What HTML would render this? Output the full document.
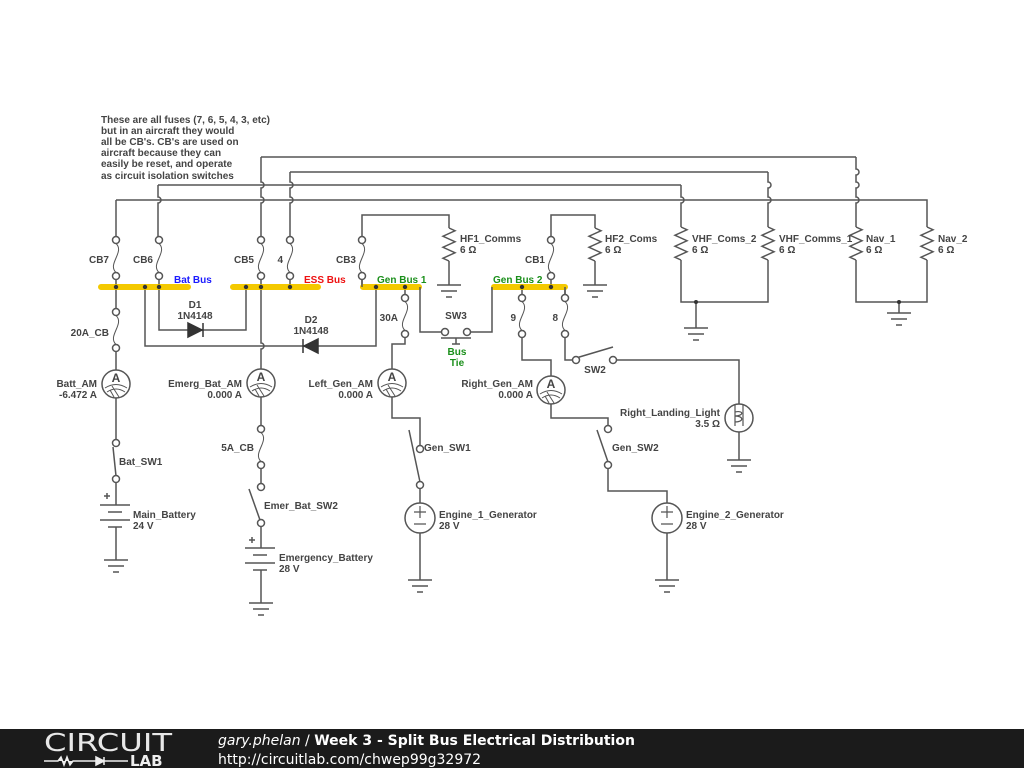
<!DOCTYPE html>
<html><head><meta charset="utf-8"><style>
html,body{margin:0;padding:0;background:#fff;width:1024px;height:768px;overflow:hidden}
svg{position:absolute;left:0;top:0}
text{font-family:"Liberation Sans",sans-serif;font-size:10px;font-weight:bold;fill:#444}
.w{stroke:#555;stroke-width:1.5;fill:none}
#foot{position:absolute;left:0;top:729px;width:1024px;height:39px;background:#1b1b1b}
</style></head><body>
<svg width="1024" height="768" viewBox="0 0 1024 768">
<defs>
<g id="fuse" class="w"><path d="M0,3.5 C9,12 -9,24 0,32.5" stroke-width="1"/><circle cx="0" cy="0" r="3.5" fill="#fff"/><circle cx="0" cy="36" r="3.5" fill="#fff"/></g>
<g id="am" class="w"><circle r="14" fill="#fff"/><path d="M-11,4 Q0,-3 11,4 M-9,8 Q0,2 9,8 M-4,2 L3,13 M-6,6 L-2,13"  stroke-width="1"/><text x="0" y="-2" text-anchor="middle" style="font-size:12px;fill:#444;stroke:none">A</text></g>
<path id="res" class="w" d="M0,0 L6,2.75 L-6,8.25 L6,13.75 L-6,19.25 L6,24.75 L-6,30.25 L0,33"/>
<g id="gnd" class="w"><path d="M-12,0 H12 M-8,6 H8 M-3,12 H3"/></g>
</defs>
<g class="w">
<!-- top wires -->
<path d="M261,157 H856 M290,172 H768 M158,185 H681 M116,200 H927 V227"/>
<path d="M261,157 V182 A3,3 0 0 1 261,188 V197 A3,3 0 0 1 261,203 V240"/>
<path d="M290,172 V182 A3,3 0 0 1 290,188 V197 A3,3 0 0 1 290,203 V240"/>
<path d="M158,185 V197 A3,3 0 0 1 158,203 V240"/>
<path d="M116,200 V240"/>
<path d="M681,185 V197 A3,3 0 0 1 681,203 V227"/>
<path d="M768,172 V182 A3,3 0 0 1 768,188 V197 A3,3 0 0 1 768,203 V227"/>
<path d="M856,157 V169 A3,3 0 0 1 856,175 V182 A3,3 0 0 1 856,188 V197 A3,3 0 0 1 856,203 V227"/>
<path d="M856,260 V302 H927 V260 M899,302 V313"/>
<path d="M681,260 V302 H768 V260 M696,302 V328"/>
<path d="M362,240 V215 H449 V228 M449,261 V285"/>
<path d="M551,240 V215 H595 V228 M595,261 V285"/>
<!-- bus drops -->
<path d="M116,276 V312 M116,348 V370 M116,398 V443 M116,479 V505 M116,527 V560"/>
<path d="M159,276 V330 H246 V287"/>
<path d="M145,287 V346 H376 V287"/>
<path d="M261,276 V343 A3,3 0 0 1 261,349 V369 M261,397 V429 M261,465 V487 M261,523 V548 M261,570 V603"/>
<path d="M290,276 V287 M362,276 V287"/>
<path d="M405,287 V298 M405,334 V344 H392 V369 M392,397 V418 H420 V449 M420,485 V503 M420,533 V580"/>
<path d="M420,287 V332 H441.5 M470.5,332 H492 V287"/>
<path d="M441,338 H471 M456,338 V344 M452,344 H460"/>
<path d="M522,287 V298 M522,334 V360 H551 V376 M551,404 V418 H608 V429 M608,465 V491 H667 V503 M667,533 V580"/>
<path d="M565,287 V298 M565,334 V360 H572.5 M616.5,360 H739 V404 M739,432 V460"/>
<path d="M551,276 V287"/>
<!-- switches -->
<path d="M576,358 L613,347"/>
<path d="M113,447 L116,476"/>
<path d="M249,489 L260,520"/>
<path d="M409,430 L420,482"/>
<path d="M597,430 L608,462"/>
<circle cx="116" cy="443" r="3.5" fill="#fff"/><circle cx="116" cy="479" r="3.5" fill="#fff"/>
<circle cx="261" cy="487" r="3.5" fill="#fff"/><circle cx="261" cy="523" r="3.5" fill="#fff"/>
<circle cx="420" cy="449" r="3.5" fill="#fff"/><circle cx="420" cy="485" r="3.5" fill="#fff"/>
<circle cx="608" cy="429" r="3.5" fill="#fff"/><circle cx="608" cy="465" r="3.5" fill="#fff"/>
<circle cx="445" cy="332" r="3.5" fill="#fff"/><circle cx="467" cy="332" r="3.5" fill="#fff"/>
<circle cx="576" cy="360" r="3.5" fill="#fff"/><circle cx="613" cy="360" r="3.5" fill="#fff"/>
<!-- batteries -->
<path d="M100,505 H130 M108,512 H122 M100,520 H130 M108,527 H122 M104,496 H110 M107,493 V499"/>
<path d="M245,548 H275 M253,555 H267 M245,563 H275 M253,570 H267 M249,540 H255 M252,537 V543"/>
<!-- generators -->
<circle cx="420" cy="518" r="15" fill="#fff"/><path d="M414,512 H426 M420,506 V518 M414,524 H426" stroke-width="1.2"/>
<circle cx="667" cy="518" r="15" fill="#fff"/><path d="M661,512 H673 M667,506 V518 M661,524 H673" stroke-width="1.2"/>
<!-- lamp -->
<circle cx="739" cy="418" r="14" fill="#fff"/><path d="M735,404 V426 M743,404 V426 M735,412 C744,410 744,416 735,416 C744,416 744,422 735,422" stroke-width="1.2"/>
</g>
<!-- buses -->
<g stroke="#f4c900" stroke-width="6" stroke-linecap="round">
<path d="M101,287 H188 M233,287 H318 M363,287 H419 M494,287 H565"/>
</g>
<g fill="#333">
<circle cx="116" cy="287" r="2.2"/><circle cx="145" cy="287" r="2.2"/><circle cx="159" cy="287" r="2.2"/>
<circle cx="246" cy="287" r="2.2"/><circle cx="261" cy="287" r="2.2"/><circle cx="290" cy="287" r="2.2"/>
<circle cx="376" cy="287" r="2.2"/><circle cx="405" cy="287" r="2.2"/>
<circle cx="522" cy="287" r="2.2"/><circle cx="551" cy="287" r="2.2"/>
<circle cx="899" cy="302" r="2"/><circle cx="696" cy="302" r="2"/>
</g>
<g class="w" stroke="#555"><path d="M362,276 V287 M420,287 V290 M492,287 V290 M565,287 V298"/></g>
<!-- fuses -->
<use href="#fuse" x="116" y="240"/><use href="#fuse" x="159" y="240"/><use href="#fuse" x="261" y="240"/><use href="#fuse" x="290" y="240"/><use href="#fuse" x="362" y="240"/><use href="#fuse" x="551" y="240"/>
<use href="#fuse" x="116" y="312"/><use href="#fuse" x="405" y="298"/><use href="#fuse" x="522" y="298"/><use href="#fuse" x="565" y="298"/><use href="#fuse" x="261" y="429"/>
<!-- resistors -->
<use href="#res" x="449" y="228"/><use href="#res" x="595" y="228"/><use href="#res" x="681" y="227"/><use href="#res" x="768" y="227"/><use href="#res" x="856" y="227"/><use href="#res" x="927" y="227"/>
<!-- grounds -->
<use href="#gnd" x="449" y="285"/><use href="#gnd" x="595" y="285"/><use href="#gnd" x="696" y="328"/><use href="#gnd" x="899" y="313"/>
<use href="#gnd" x="116" y="560"/><use href="#gnd" x="261" y="603"/><use href="#gnd" x="420" y="580"/><use href="#gnd" x="667" y="580"/><use href="#gnd" x="739" y="460"/>
<!-- ammeters -->
<use href="#am" x="116" y="384"/><use href="#am" x="261" y="383"/><use href="#am" x="392" y="383"/><use href="#am" x="551" y="390"/>
<!-- diodes -->
<path d="M188,323 L202,330 L188,337 Z M203,323 V337" fill="#333" stroke="#333" stroke-width="1.5"/>
<path d="M318,339 L304,346 L318,353 Z M303,339 V353" fill="#333" stroke="#333" stroke-width="1.5"/>
<!-- labels -->
<text x="101" y="123">These are all fuses (7, 6, 5, 4, 3, etc)</text>
<text x="101" y="134">but in an aircraft they would</text>
<text x="101" y="145">all be CB's. CB's are used on</text>
<text x="101" y="156">aircraft because they can</text>
<text x="101" y="167">easily be reset, and operate</text>
<text x="101" y="179">as circuit isolation switches</text>
<text x="109" y="263" text-anchor="end">CB7</text><text x="153" y="263" text-anchor="end">CB6</text>
<text x="254" y="263" text-anchor="end">CB5</text><text x="283" y="263" text-anchor="end">4</text>
<text x="356" y="263" text-anchor="end">CB3</text><text x="545" y="263" text-anchor="end">CB1</text>
<text x="174" y="283" style="fill:#1a1aff">Bat Bus</text>
<text x="304" y="283" style="fill:#ee1111">ESS Bus</text>
<text x="377" y="283" style="fill:#1a8f1a">Gen Bus 1</text>
<text x="493" y="283" style="fill:#1a8f1a">Gen Bus 2</text>
<text x="195" y="308" text-anchor="middle">D1</text><text x="195" y="319" text-anchor="middle">1N4148</text>
<text x="311" y="323" text-anchor="middle">D2</text><text x="311" y="334" text-anchor="middle">1N4148</text>
<text x="109" y="336" text-anchor="end">20A_CB</text>
<text x="398" y="321" text-anchor="end">30A</text>
<text x="516" y="321" text-anchor="end">9</text><text x="558" y="321" text-anchor="end">8</text>
<text x="456" y="319" text-anchor="middle">SW3</text>
<text x="457" y="355" text-anchor="middle" style="fill:#1a8f1a">Bus</text><text x="457" y="366" text-anchor="middle" style="fill:#1a8f1a">Tie</text>
<text x="595" y="373" text-anchor="middle">SW2</text>
<text x="460" y="242">HF1_Comms</text><text x="460" y="253">6 Ω</text>
<text x="605" y="242">HF2_Coms</text><text x="605" y="253">6 Ω</text>
<text x="692" y="242">VHF_Coms_2</text><text x="692" y="253">6 Ω</text>
<text x="779" y="242">VHF_Comms_1</text><text x="779" y="253">6 Ω</text>
<text x="866" y="242">Nav_1</text><text x="866" y="253">6 Ω</text>
<text x="938" y="242">Nav_2</text><text x="938" y="253">6 Ω</text>
<text x="97" y="387" text-anchor="end">Batt_AM</text><text x="97" y="398" text-anchor="end">-6.472 A</text>
<text x="242" y="387" text-anchor="end">Emerg_Bat_AM</text><text x="242" y="398" text-anchor="end">0.000 A</text>
<text x="373" y="387" text-anchor="end">Left_Gen_AM</text><text x="373" y="398" text-anchor="end">0.000 A</text>
<text x="533" y="387" text-anchor="end">Right_Gen_AM</text><text x="533" y="398" text-anchor="end">0.000 A</text>
<text x="720" y="416" text-anchor="end">Right_Landing_Light</text><text x="720" y="427" text-anchor="end">3.5 Ω</text>
<text x="119" y="465">Bat_SW1</text>
<text x="254" y="451" text-anchor="end">5A_CB</text>
<text x="264" y="509">Emer_Bat_SW2</text>
<text x="424" y="451">Gen_SW1</text>
<text x="612" y="451">Gen_SW2</text>
<text x="133" y="518">Main_Battery</text><text x="133" y="529">24 V</text>
<text x="279" y="561">Emergency_Battery</text><text x="279" y="572">28 V</text>
<text x="439" y="518">Engine_1_Generator</text><text x="439" y="529">28 V</text>
<text x="686" y="518">Engine_2_Generator</text><text x="686" y="529">28 V</text>
</svg>
<div id="foot">
<svg width="1024" height="39" viewBox="0 0 1024 39">
<text x="44" y="22" style="font-family:'DejaVu Sans',sans-serif;font-weight:normal;font-size:25px;fill:#e8e8e8" textLength="128" lengthAdjust="spacingAndGlyphs">CIRCUIT</text>
<path d="M44,32 H58 L61,28 L64,36 L67,28 L70,36 L73,32 H96 M96,28 V36 L104,32 Z M104,28 V36 M104,32 H128" stroke="#eee" stroke-width="1.5" fill="#eee"/>
<text x="130" y="37" style="font-family:'DejaVu Sans',sans-serif;font-weight:bold;font-size:15px;fill:#eee">LAB</text>
<text x="218" y="16" style="font-family:'DejaVu Sans',sans-serif;font-weight:normal;font-size:14px;fill:#fff"><tspan font-style="italic">gary.phelan</tspan> / <tspan font-weight="bold">Week 3 - Split Bus Electrical Distribution</tspan></text>
<text x="218" y="35" style="font-family:'DejaVu Sans',sans-serif;font-weight:normal;font-size:14px;fill:#fff">http://circuitlab.com/chwep99g32972</text>
</svg>
</div>
</body></html>
